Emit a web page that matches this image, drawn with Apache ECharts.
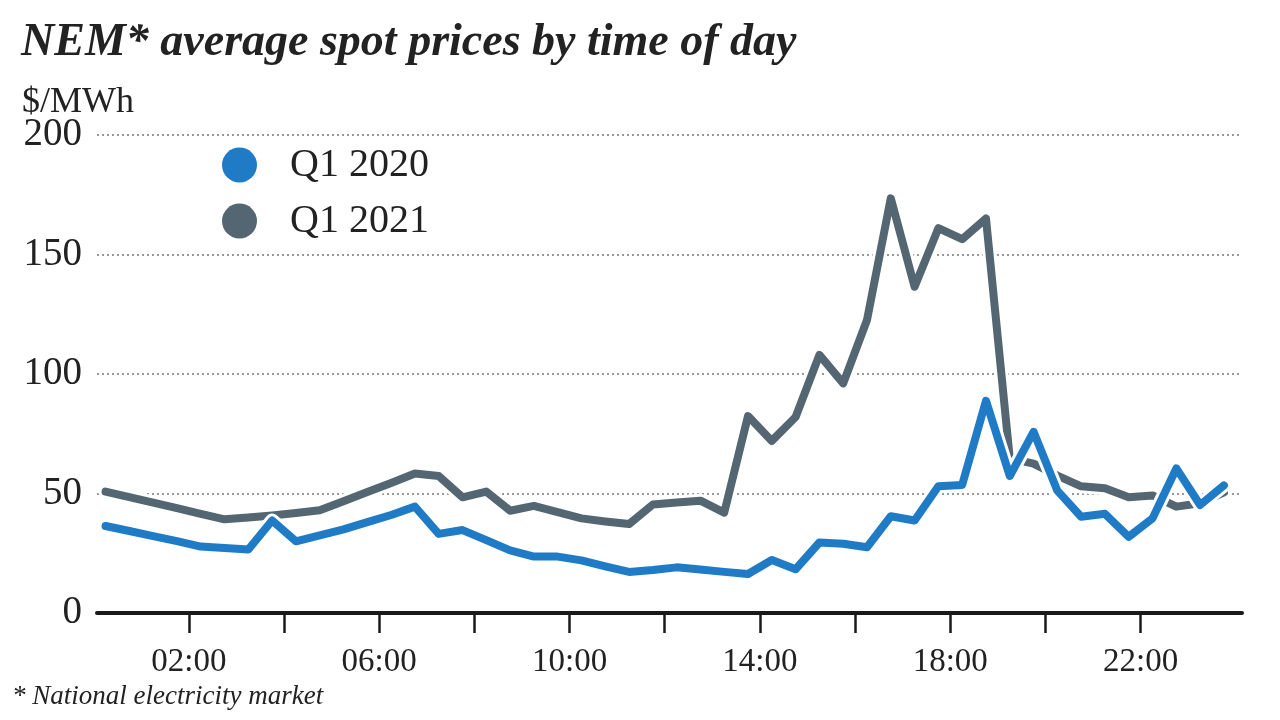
<!DOCTYPE html>
<html>
<head>
<meta charset="utf-8">
<script src="https://cdn.jsdelivr.net/npm/echarts@6/dist/echarts.min.js"></script>
<style>
html,body{margin:0;padding:0;background:#fff;}
#chart{width:1280px;height:720px;}
</style>
</head>
<body>
<div id="chart"></div>
<script>
// Half-hourly time slots (hours, bin centres)
const times = [0.25,0.75,1.25,1.75,2.25,2.75,3.25,3.75,4.25,4.75,5.25,5.75,6.25,6.75,7.25,7.75,
  8.25,8.75,9.25,9.75,10.25,10.75,11.25,11.75,12.25,12.75,13.25,13.75,14.25,14.75,15.25,15.75,
  16.25,16.75,17.25,17.75,18.25,18.75,19.25,19.75,20.25,20.75,21.25,21.75,22.25,22.75,23.25,23.75];
const q1_2020 = [36.4,34.3,32.2,30.1,27.8,27.2,26.6,38.7,30.0,32.5,35.0,38.0,41.0,44.5,33.1,34.7,
  30.5,26.2,23.6,23.6,22.0,19.5,17.2,18.0,19.1,18.2,17.2,16.3,22.2,18.3,29.5,29.0,
  27.5,40.5,38.7,53.0,53.6,88.8,57.3,75.8,51.2,40.3,41.5,31.9,39.6,60.5,45.2,53.4];
const q1_2021 = [50.8,48.5,46.2,43.9,41.5,39.2,40.0,40.8,41.8,43.0,46.8,50.6,54.4,58.4,57.3,48.4,
  50.8,42.8,44.8,42.2,39.6,38.3,37.2,45.4,46.2,47.0,42.0,82.4,72.0,82.0,108.0,96.1,
  122.6,173.5,136.5,161.0,156.4,165.1,64.7,62.5,57.5,53.0,52.2,48.4,49.2,44.5,45.9,50.5];
const seriesNames = ['Q1 2020','Q1 2021'];
const xTickHours = [2,4,6,8,10,12,14,16,18,20,22];
const xLabelHours = [2,6,10,14,18,22];

const FONT = 'Liberation Serif';
const BLUE = '#1f7bc6';
const GRAY = '#536672';

const pair = (vals) => times.map((t, i) => [t, vals[i]]);
const pad = (h) => (h < 10 ? '0' : '') + h + ':00';

const chart = echarts.init(document.getElementById('chart'), null, {renderer: 'canvas'});

function lineSeries(name, vals, color, halo) {
  return {
    name: name,
    type: 'line',
    data: pair(vals),
    symbol: 'none',
    silent: true,
    animation: false,
    lineStyle: {color: halo ? '#ffffff' : color, width: halo ? 14 : 8, cap: 'round', join: 'round'},
    itemStyle: {color: color},
    emphasis: {disabled: true}
  };
}

chart.setOption({
  backgroundColor: '#ffffff',
  animation: false,
  title: [
    {text: 'NEM* average spot prices by time of day', left: 16, top: 15,
     textStyle: {fontFamily: FONT, fontSize: 46, fontStyle: 'italic', fontWeight: 'bold', color: '#222'}},
    {text: '$/MWh', left: 17, top: 80,
     textStyle: {fontFamily: FONT, fontSize: 36, fontWeight: 'normal', color: '#222'}},
    {text: '* National electricity market', left: 7, top: 678,
     textStyle: {fontFamily: FONT, fontSize: 27, fontStyle: 'italic', fontWeight: 'normal', color: '#222'}}
  ],
  legend: {
    data: seriesNames,
    orient: 'vertical',
    left: 217,
    top: 140,
    icon: 'circle',
    itemWidth: 35,
    itemHeight: 35,
    itemGap: 16,
    selectedMode: false,
    textStyle: {fontFamily: FONT, fontSize: 40, color: '#222', padding: [0, 0, 0, 28]}
  },
  grid: {left: 97, right: 38, top: 135, bottom: 107, containLabel: false},
  xAxis: {
    type: 'value',
    min: 0.07,
    max: 24.13,
    axisLine: {show: true, lineStyle: {color: '#1a1a1a', width: 4}},
    axisTick: {show: true, customValues: xTickHours, length: 20, lineStyle: {color: '#1a1a1a', width: 2.5}},
    axisLabel: {customValues: xLabelHours, formatter: (v) => pad(Math.round(v)), margin: 33,
      fontFamily: FONT, fontSize: 33, color: '#222'},
    splitLine: {show: false}
  },
  yAxis: {
    type: 'value',
    min: 0,
    max: 200,
    interval: 50,
    axisLine: {show: false},
    axisTick: {show: false},
    axisLabel: {margin: 15, fontFamily: FONT, fontSize: 39, color: '#222'},
    splitLine: {show: true, lineStyle: {color: '#777', type: [2, 3], width: 1.5}}
  },
  series: [
    lineSeries('halo2021', q1_2021, GRAY, true),
    lineSeries('Q1 2021', q1_2021, GRAY, false),
    lineSeries('halo2020', q1_2020, BLUE, true),
    lineSeries('Q1 2020', q1_2020, BLUE, false)
  ]
});
</script>
</body>
</html>
